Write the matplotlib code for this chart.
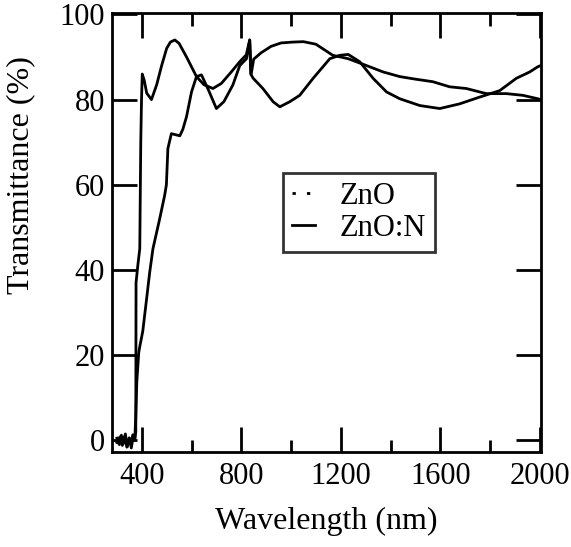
import numpy as np
import matplotlib.pyplot as plt
from matplotlib.lines import Line2D

plt.rcParams['font.family'] = ['Liberation Serif', 'DejaVu Serif']

# ZnO : sharp absorption edge, few fringes
wl_a = [300, 310, 318, 326, 334, 342, 350, 358, 366, 372, 376, 377, 384, 392, 396, 399, 402,
        410, 420, 439, 460, 480, 500, 515, 533, 550, 580, 620, 650, 686, 720, 760, 794,
        820, 834, 840, 850, 880, 920, 960, 1007, 1050, 1100, 1168, 1230, 1303, 1370,
        1437, 1500, 1570, 1638, 1705, 1785, 1866, 1932, 1992, 2004]
t_a = [0.5, -1.0, 1.2, -0.8, 1.5, -1.5, 0.6, -1.8, 1.0, 0.2, 2.0, 37.0, 41.0, 45.0, 70.0, 80.0, 86.0,
       84.5, 81.5, 80.0, 83.5, 88.0, 92.0, 93.5, 94.0, 93.2, 90.0, 85.4, 83.5, 82.6, 83.8, 86.5, 88.9,
       90.5, 94.0, 86.0, 89.5, 91.0, 92.5, 93.3, 93.5, 93.6, 93.0, 90.4, 89.6, 88.0, 86.5,
       85.4, 84.8, 84.2, 83.0, 82.6, 81.4, 81.4, 81.0, 80.2, 80.0]

# ZnO:N : gradual edge, deep fringes
wl_b = [300, 312, 322, 332, 340, 348, 356, 364, 372, 376, 380, 388, 392, 404, 419, 432, 445,
        472, 492, 499, 505, 519, 553, 565, 580, 600, 620, 640, 670, 700, 730, 766, 794,
        821, 834, 838, 848, 887, 928, 955, 995, 1035, 1089, 1156, 1196, 1230, 1276, 1330,
        1384, 1437, 1518, 1598, 1678, 1759, 1839, 1906, 1960, 1992, 2004]
t_b = [-0.5, 0.8, -1.2, 1.0, -1.6, 0.4, -0.9, 1.3, 0.5, 5.6, 13.6, 20.7, 22.0, 25.6, 33.0, 39.5, 45.0,
       52.0, 57.5, 60.0, 68.5, 72.0, 71.5, 73.0, 76.0, 81.8, 85.4, 85.8, 82.0, 77.9, 79.5, 83.4, 88.0,
       89.6, 94.0, 86.0, 85.0, 82.6, 79.5, 78.3, 79.5, 81.0, 85.0, 89.6, 90.4, 90.6, 88.9, 85.0,
       81.8, 80.2, 78.6, 77.9, 79.0, 80.6, 82.1, 85.0, 86.5, 87.7, 88.0]

fig = plt.figure(figsize=(5.71, 5.47), dpi=100)
ax = fig.add_axes([0.196, 0.174, 0.751, 0.802])

ax.plot(wl_a, t_a, color='black', lw=2.0)
ax.plot(wl_b, t_b, color='black', lw=2.0)

ax.set_xlim(280, 2004)
ax.set_ylim(-2.7, 100.3)
ax.set_xticks([400, 800, 1200, 1600, 2000])
ax.set_xticks([600, 1000, 1400, 1800], minor=True)
ax.set_yticks([0, 20, 40, 60, 80, 100])

ax.tick_params(which='both', direction='in', top=True, right=True, width=2,
               labelsize=22, color='black')
ax.tick_params(axis='x', pad=7)
ax.tick_params(axis='y', pad=5)
ax.tick_params(which='major', length=18)
ax.tick_params(which='minor', length=9)
for s in ax.spines.values():
    s.set_linewidth(2)

ax.set_xlabel('Wavelength (nm)', fontsize=23, labelpad=12)
ax.set_ylabel('Transmittance (%)', fontsize=23)
ax.yaxis.set_label_coords(-0.18, 0.631)

handles = [Line2D([], [], color='black', lw=2, linestyle=(0, (1.2, 4))),
           Line2D([], [], color='black', lw=2)]
leg = ax.legend(handles, ['ZnO', 'ZnO:N'], loc='upper left', bbox_to_anchor=(0.399, 0.636),
                fontsize=22, frameon=True, fancybox=False, handlelength=0.75,
                handletextpad=0.8, borderpad=0.3, labelspacing=0.1, borderaxespad=0)
leg.get_frame().set_edgecolor('black')
leg.get_frame().set_linewidth(2)

fig.savefig('out.png', dpi=100)
